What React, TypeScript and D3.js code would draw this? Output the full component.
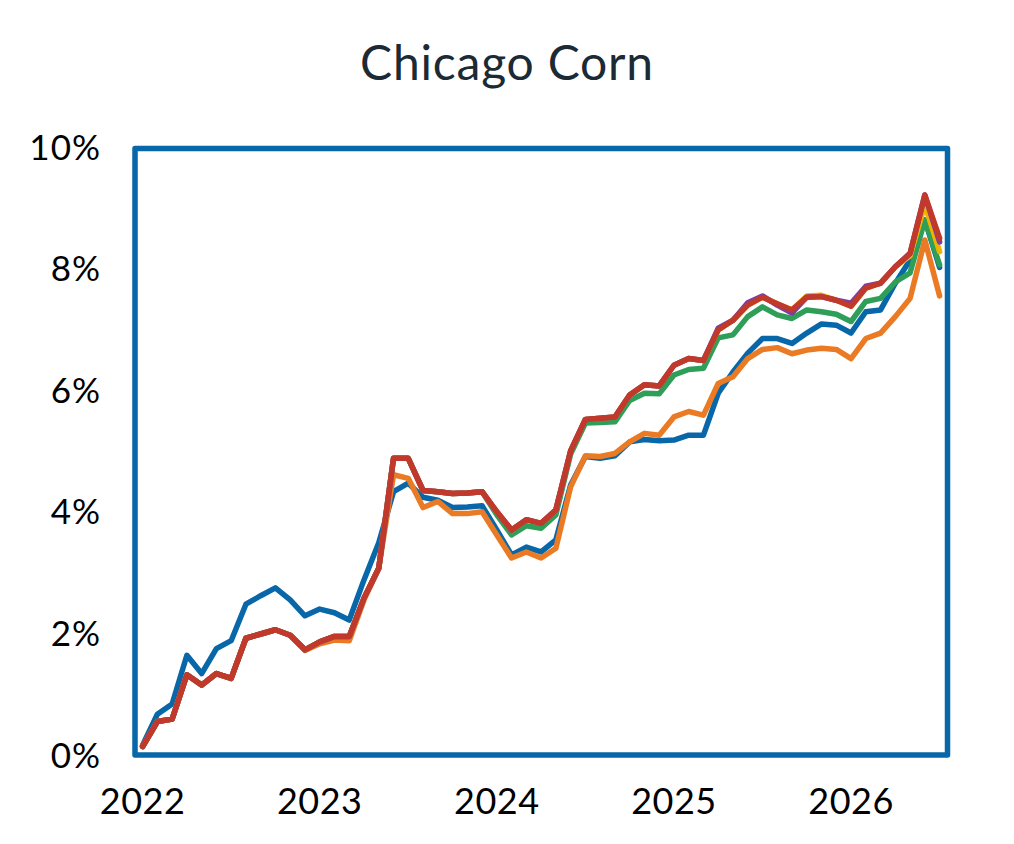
import React from 'react';
import * as d3 from 'd3';

// monthly points, Jan 2022 .. Jul 2026
const yearLabels = ['2022', '2023', '2024', '2025', '2026'];
const yTicks = [0, 2, 4, 6, 8, 10];

const blueSeries = [
  0.16, 0.67, 0.84, 1.64, 1.34, 1.75, 1.88, 2.48, 2.62, 2.75, 2.55, 2.29,
  2.40, 2.34, 2.22, 2.88, 3.49, 4.33, 4.47, 4.24, 4.19, 4.07, 4.08, 4.10,
  3.70, 3.29, 3.42, 3.34, 3.54, 4.44, 4.91, 4.88, 4.92, 5.15, 5.19, 5.17,
  5.18, 5.26, 5.26, 5.95, 6.30, 6.61, 6.85, 6.85, 6.77, 6.94, 7.09, 7.07,
  6.94, 7.29, 7.32, 7.76, 8.14, 8.80, 8.02,
];

const orangeSeries = [
  0.14, 0.55, 0.59, 1.32, 1.15, 1.34, 1.26, 1.92, 1.99, 2.06, 1.97, 1.72,
  1.83, 1.89, 1.88, 2.55, 3.07, 4.61, 4.55, 4.07, 4.17, 3.97, 3.97, 4.00,
  3.62, 3.24, 3.34, 3.24, 3.40, 4.41, 4.92, 4.91, 4.96, 5.15, 5.29, 5.26,
  5.56, 5.65, 5.59, 6.11, 6.22, 6.52, 6.67, 6.70, 6.60, 6.66, 6.69, 6.67,
  6.52, 6.85, 6.94, 7.21, 7.51, 8.47, 7.55,
];

const greenSeries = [
  0.14, 0.55, 0.59, 1.32, 1.15, 1.34, 1.26, 1.92, 1.99, 2.06, 1.97, 1.73,
  1.86, 1.95, 1.95, 2.58, 3.07, 4.88, 4.88, 4.35, 4.33, 4.30, 4.31, 4.33,
  3.95, 3.62, 3.77, 3.73, 3.95, 4.95, 5.46, 5.47, 5.48, 5.83, 5.95, 5.94,
  6.25, 6.34, 6.36, 6.86, 6.91, 7.21, 7.37, 7.24, 7.18, 7.32, 7.29, 7.25,
  7.13, 7.46, 7.51, 7.78, 7.93, 8.80, 8.06,
];

const yellowSeries = [
  0.14, 0.55, 0.59, 1.32, 1.15, 1.34, 1.26, 1.92, 1.99, 2.06, 1.97, 1.73,
  1.86, 1.95, 1.95, 2.58, 3.07, 4.88, 4.88, 4.35, 4.33, 4.30, 4.31, 4.33,
  4.00, 3.70, 3.87, 3.81, 4.03, 5.00, 5.52, 5.54, 5.56, 5.92, 6.09, 6.07,
  6.41, 6.52, 6.49, 6.99, 7.15, 7.40, 7.53, 7.42, 7.32, 7.55, 7.56, 7.48,
  7.38, 7.68, 7.76, 8.03, 8.21, 9.05, 8.28,
];

const purpleSeries = [
  0.14, 0.55, 0.59, 1.32, 1.15, 1.34, 1.26, 1.92, 1.99, 2.06, 1.97, 1.73,
  1.86, 1.95, 1.95, 2.58, 3.07, 4.88, 4.88, 4.35, 4.33, 4.30, 4.31, 4.33,
  4.00, 3.70, 3.87, 3.81, 4.03, 5.00, 5.52, 5.54, 5.56, 5.92, 6.09, 6.07,
  6.41, 6.52, 6.49, 7.02, 7.15, 7.44, 7.55, 7.40, 7.27, 7.53, 7.54, 7.48,
  7.43, 7.71, 7.76, 8.03, 8.25, 9.21, 8.44,
];

const redSeries = [
  0.14, 0.55, 0.59, 1.32, 1.15, 1.34, 1.26, 1.92, 1.99, 2.06, 1.97, 1.73,
  1.86, 1.95, 1.95, 2.58, 3.07, 4.88, 4.88, 4.35, 4.33, 4.30, 4.31, 4.33,
  4.00, 3.70, 3.87, 3.81, 4.03, 5.00, 5.52, 5.54, 5.56, 5.92, 6.09, 6.07,
  6.41, 6.52, 6.49, 6.99, 7.15, 7.40, 7.53, 7.42, 7.32, 7.53, 7.54, 7.48,
  7.38, 7.68, 7.76, 8.03, 8.25, 9.21, 8.50,
];

// drawing order: first at the bottom
const seriesList = [
  { values: blueSeries, color: '#0767a8' },
  { values: orangeSeries, color: '#ea7a24' },
  { values: greenSeries, color: '#2f9e58' },
  { values: yellowSeries, color: '#f2b300' },
  { values: purpleSeries, color: '#7d3f9f' },
  { values: redSeries, color: '#c0392b' },
];

const W = 1014;
const H = 844;
const font = 'Lato, "Noto Sans", sans-serif';

export default function App() {
  const n = redSeries.length;
  const x = d3.scaleLinear().domain([0, n - 1]).range([142.6, 939.6]);
  const y = d3.scaleLinear().domain([0, 10]).range([755, 147]);

  const line = d3
    .line<number>()
    .x((_, i) => x(i))
    .y((d) => y(d));

  return (
    <svg
      width={W}
      height={H}
      style={{ position: 'absolute', left: 0, top: 0, background: '#fff' }}
    >
      <text
        x={507}
        y={80}
        textAnchor="middle"
        fontFamily={font}
        fontSize={48}
        letterSpacing={0.8}
        fill="#1b2a35"
      >
        Chicago Corn
      </text>

      {yTicks.map((t) => (
        <text
          key={t}
          x={101}
          y={y(t) + 12.5}
          textAnchor="end"
          fontFamily={font}
          fontSize={35}
          letterSpacing={1}
          fill="#000"
        >
          {t}%
        </text>
      ))}

      {yearLabels.map((lab, i) => (
        <text
          key={lab}
          x={x(i * 12)}
          y={814}
          textAnchor="middle"
          fontFamily={font}
          fontSize={36}
          letterSpacing={0.5}
          fill="#000"
        >
          {lab}
        </text>
      ))}

      {seriesList.map((s, i) => (
        <path
          key={i}
          d={line(s.values) || ''}
          fill="none"
          stroke={s.color}
          strokeWidth={5.5}
          strokeLinejoin="round"
          strokeLinecap="round"
        />
      ))}

      <rect
        x={135}
        y={148.5}
        width={812.5}
        height={606.5}
        fill="none"
        stroke="#0767a8"
        strokeWidth={5.5}
        strokeLinejoin="round"
      />
    </svg>
  );
}
